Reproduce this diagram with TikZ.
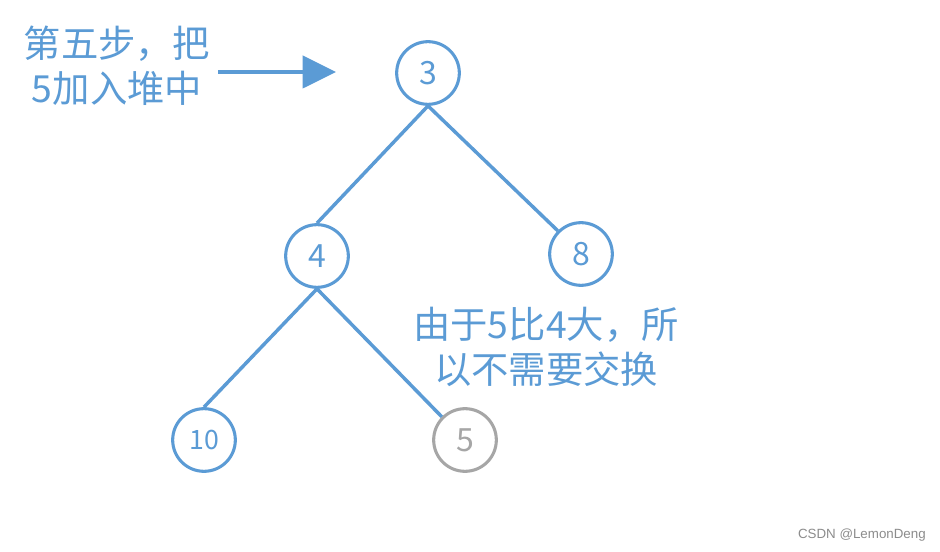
\documentclass[tikz,border=0pt]{standalone}
\usepackage{fontspec}
\newfontfamily\cjk{Noto Sans CJK SC}
\newfontfamily\wmfont{Liberation Sans}
\usetikzlibrary{arrows.meta}
\definecolor{nblue}{HTML}{5B9BD5}
\definecolor{ngray}{HTML}{A6A6A6}
\definecolor{wmgray}{HTML}{8C8C8C}
\tikzset{
  heapnode/.style={circle, draw=nblue, line width=2.3pt, fill=white, minimum size=47pt, inner sep=0pt,
    text=nblue, font=\cjk\fontsize{24}{24}\selectfont},
  newnode/.style={heapnode, draw=ngray, text=ngray},
  edge/.style={draw=nblue, line width=2.6pt},
  note/.style={text=nblue, align=center, font=\cjk\fontsize{28}{34}\selectfont, inner sep=0pt},
  pointer/.style={draw=nblue, line width=3pt, -{Triangle[length=25pt,width=24pt]}}
}
\begin{document}
\begin{tikzpicture}[x=0.75pt,y=-0.75pt]
\useasboundingbox (0,0) rectangle (940,552);
\fill[white] (0,0) rectangle (940,552);
% nodes
\node[heapnode] (n3) at (428,73) {3};
\node[heapnode] (n4) at (317,256) {4};
\node[heapnode] (n8) at (581,254) {8};
\node[heapnode, font=\cjk\fontsize{20}{20}\selectfont] (n10) at (204,440) {10};
\node[newnode] (n5) at (465,440) {5};
% edges
\draw[edge] (n3.south) -- (n4.north);
\draw[edge] (n3.south) -- (n8.135);
\draw[edge] (n4.south) -- (n10.north);
\draw[edge] (n4.south) -- (n5.135);
% notes
\node[note] (t1) at (117,66) {第五步，把\\5加入堆中};
\node[note] (t2) at (546,347) {由于5比4大，所\\以不需要交换};
% pointer arrow
\coordinate (a1) at (218,72);
\coordinate (a2) at (336,72);
\draw[pointer] (a1) -- (a2);
% watermark
\node[text=wmgray, font=\wmfont\fontsize{10}{12}\selectfont, anchor=east, inner sep=0pt] (wm) at (926,535) {CSDN @LemonDeng};
\end{tikzpicture}
\end{document}
